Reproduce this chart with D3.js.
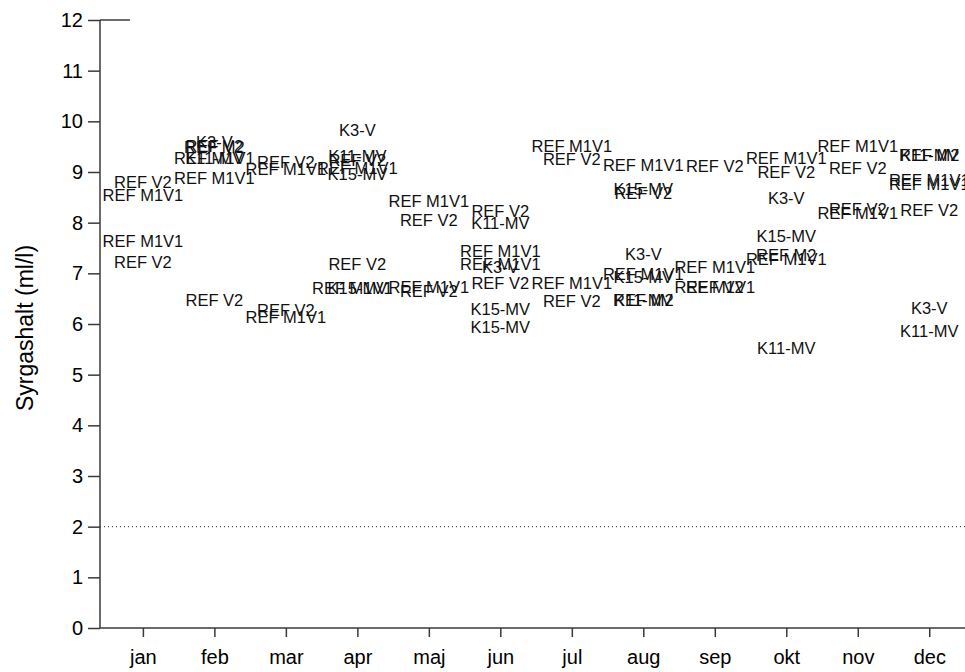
<!DOCTYPE html>
<html>
<head>
<meta charset="utf-8">
<script src="https://cdn.jsdelivr.net/npm/d3@7/dist/d3.min.js"></script>
<style>
  html, body { margin: 0; padding: 0; background: #fff; }
  svg { display: block; font-family: "Liberation Sans", Arial, sans-serif; }
</style>
</head>
<body>
<svg id="chart" width="965" height="672"></svg>
<script>
// Month tick labels (Swedish)
const months = ["jan", "feb", "mar", "apr", "maj", "jun", "jul", "aug", "sep", "okt", "nov", "dec"];
const yTicks = [0, 1, 2, 3, 4, 5, 6, 7, 8, 9, 10, 11, 12];

// Oxygen threshold line (ml/l)
const threshold = 2;

// Station labels, sampling month (1 = jan) and oxygen content (ml/l)
const stations = [
  "REF V2", "REF M1V1", "REF M1V1", "REF V2",
  "K3-V", "REF V2", "REF M2", "REF M1V1", "K11-MV", "REF M1V1", "REF V2",
  "REF V2", "REF M1V1", "REF V2", "REF M1V1",
  "K3-V", "K11-MV", "REF V2", "REF M1V1", "K15-MV", "REF V2", "REF M1V1", "K15-MV",
  "REF M1V1", "REF V2", "REF M1V1", "REF V2",
  "REF V2", "K11-MV", "REF M1V1", "REF M1V1", "K3-V", "REF V2", "K15-MV", "K15-MV",
  "REF M1V1", "REF V2", "REF M1V1", "REF V2",
  "REF M1V1", "K15-MV", "REF V2", "K3-V", "REF M1V1", "K15-MV", "REF M2", "K11-MV",
  "REF V2", "REF M1V1", "REF M1V1", "REF V2",
  "REF M1V1", "REF V2", "K3-V", "K15-MV", "REF M2", "REF M1V1", "K11-MV",
  "REF M1V1", "REF V2", "REF V2", "REF M1V1",
  "K11-MV", "REF M2", "REF M1V1", "REF M1V1", "REF V2", "K3-V", "K11-MV"
];
const sampleMonth = [
  1, 1, 1, 1,
  2, 2, 2, 2, 2, 2, 2,
  3, 3, 3, 3,
  4, 4, 4, 4, 4, 4, 3.93, 4,
  5, 5, 5, 5,
  6, 6, 6, 6, 6, 6, 6, 6,
  7, 7, 7, 7,
  8, 8, 8, 8, 8, 8, 8, 8,
  9, 9, 9, 9,
  10, 10, 10, 10, 10, 10, 10,
  11, 11, 11, 11,
  12, 12, 12, 12, 12, 12, 12
];
const oxygen = [
  8.80, 8.55, 7.63, 7.22,
  9.59, 9.52, 9.49, 9.27, 9.27, 8.88, 6.47,
  9.20, 9.06, 6.27, 6.13,
  9.83, 9.32, 9.23, 9.07, 8.96, 7.18, 6.71, 6.71,
  8.43, 8.05, 6.72, 6.65,
  8.23, 8.00, 7.44, 7.19, 7.12, 6.81, 6.30, 5.93,
  9.52, 9.25, 6.80, 6.45,
  9.13, 8.67, 8.59, 7.38, 6.98, 6.93, 6.48, 6.48,
  9.12, 7.12, 6.73, 6.73,
  9.27, 9.00, 8.49, 7.74, 7.37, 7.28, 5.53,
  9.52, 9.07, 8.26, 8.19,
  9.33, 9.33, 8.84, 8.77, 8.25, 6.32, 5.86
];

const svg = d3.select("#chart");
const W = 965, H = 672;
const padL = 100, padT = 20, plotBottom = 628;

const x = d3.scaleLinear().domain([0.4, 12.5]).range([padL, W]);
const y = d3.scaleLinear().domain([0, 12]).range([plotBottom, padT]);

const axisColor = "#3a3a3a";

// Threshold line
svg.append("line")
  .attr("x1", x(0.4)).attr("x2", x(12.5))
  .attr("y1", y(threshold)).attr("y2", y(threshold))
  .attr("stroke", "#222").attr("stroke-width", 1)
  .attr("stroke-dasharray", "1,3");

// Y axis
const yAxis = svg.append("g")
  .attr("transform", `translate(${padL},0)`)
  .call(d3.axisLeft(y).tickValues(yTicks).tickSize(12).tickPadding(5).tickFormat(d3.format("d")));
yAxis.select(".domain").attr("stroke", axisColor).attr("stroke-width", 1.5)
  .attr("d", `M0,${padT}V${plotBottom}`);
yAxis.selectAll(".tick line").attr("stroke", axisColor).attr("stroke-width", 1.5);
yAxis.selectAll(".tick text").attr("font-size", 20).attr("fill", "#000")
  .attr("font-family", "Liberation Sans, Arial, sans-serif");

// Short cap at the top of the value axis
svg.append("line")
  .attr("x1", padL).attr("x2", padL + 30)
  .attr("y1", y(12)).attr("y2", y(12))
  .attr("stroke", axisColor).attr("stroke-width", 1.5);

// X axis
const xAxis = svg.append("g")
  .attr("transform", `translate(0,${plotBottom})`)
  .call(d3.axisBottom(x).tickValues(d3.range(1, 13)).tickSize(9).tickPadding(13)
    .tickFormat(d => months[d - 1]));
xAxis.select(".domain").attr("stroke", axisColor).attr("stroke-width", 1.5)
  .attr("d", `M${padL},0H${W}`);
xAxis.selectAll(".tick line").attr("stroke", axisColor).attr("stroke-width", 1.5);
xAxis.selectAll(".tick text").attr("font-size", 20).attr("fill", "#000")
  .attr("font-family", "Liberation Sans, Arial, sans-serif");

// Y axis title
svg.append("text")
  .attr("transform", `translate(33,${(padT + plotBottom) / 2 + 4}) rotate(-90)`)
  .attr("text-anchor", "middle")
  .attr("font-size", 23)
  .attr("fill", "#000")
  .text("Syrgashalt (ml/l)");

// Station labels placed at each measurement
const points = stations.map((s, i) => ({ name: s, m: sampleMonth[i], v: oxygen[i] }));
svg.append("g").selectAll("text")
  .data(points)
  .join("text")
  .attr("x", d => x(d.m))
  .attr("y", d => y(d.v))
  .attr("dy", "0.36em")
  .attr("text-anchor", "middle")
  .attr("font-size", 16.5)
  .attr("fill", "#111")
  .text(d => d.name);
</script>
</body>
</html>
